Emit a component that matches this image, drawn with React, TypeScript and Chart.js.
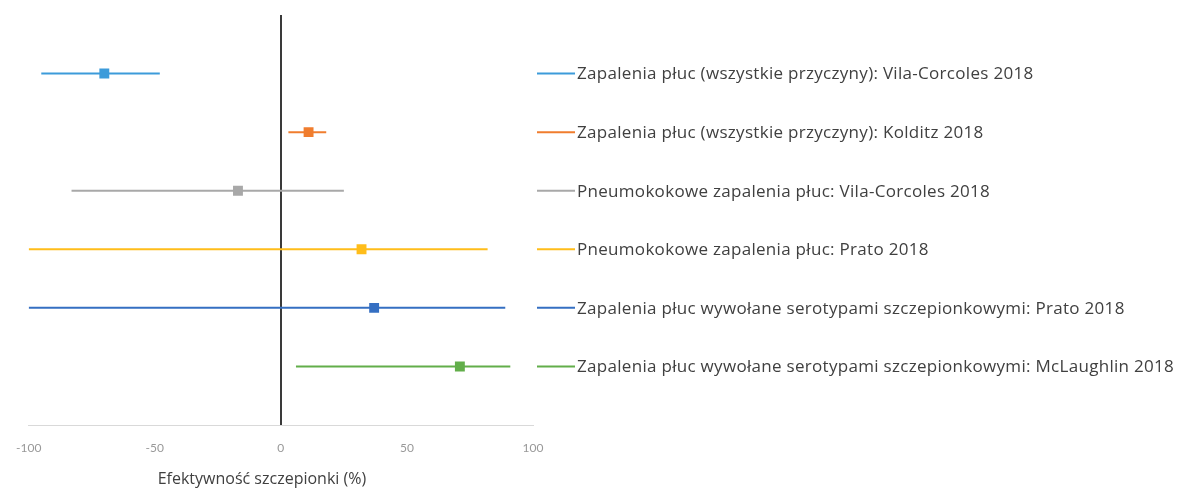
import React, { useEffect, useRef } from "react";
import { Chart, registerables } from "chart.js";

Chart.register(...registerables);

// Study labels, one per row (top to bottom)
const categories = [
  "Zapalenia płuc (wszystkie przyczyny): Vila-Corcoles 2018",
  "Zapalenia płuc (wszystkie przyczyny): Kolditz 2018",
  "Pneumokokowe zapalenia płuc: Vila-Corcoles 2018",
  "Pneumokokowe zapalenia płuc: Prato 2018",
  "Zapalenia płuc wywołane serotypami szczepionkowymi: Prato 2018",
  "Zapalenia płuc wywołane serotypami szczepionkowymi: McLaughlin 2018",
];

// Vaccine effectiveness (%) with 95% confidence interval bounds
const estimates = [-70, 11, -17, 32, 37, 71];
const lowerCI = [-95, 3, -83, -100, -100, 6];
const upperCI = [-48, 18, 25, 82, 89, 91];

const seriesColors = ["#3C9BDA", "#F07D2E", "#A8A8A8", "#FFBD1A", "#356FC2", "#62AE4A"];

const xTicks = [-100, -50, 0, 50, 100];
const axisTitle = "Efektywność szczepionki (%)";

const TEXT_FONT = "'Open Sans', 'Noto Sans', sans-serif";
const TICK_FONT = "Lato, 'Open Sans', sans-serif";

export default function App() {
  const canvasRef = useRef<HTMLCanvasElement | null>(null);

  useEffect(() => {
    const canvas = canvasRef.current;
    if (!canvas) return;

    const datasets = categories.map((label, i) => ({
      label,
      data: [
        { x: lowerCI[i], y: i + 1 },
        { x: estimates[i], y: i + 1 },
        { x: upperCI[i], y: i + 1 },
      ],
      borderColor: seriesColors[i],
      backgroundColor: seriesColors[i],
      borderWidth: 2,
      pointStyle: "rect" as const,
      pointRadius: [0, 7, 0],
      pointHoverRadius: [0, 7, 0],
      pointBorderWidth: 0,
      showLine: true,
    }));

    // Right-hand legend, each entry aligned with its row, plus the x-axis title
    const rowLegend = {
      id: "rowLegend",
      afterDraw(chart: any) {
        const { ctx, chartArea, scales } = chart;
        ctx.save();
        ctx.font = `17px ${TEXT_FONT}`;
        (ctx as any).letterSpacing = "0.3px";
        ctx.textBaseline = "middle";
        ctx.textAlign = "left";
        categories.forEach((label, i) => {
          const y = scales.y.getPixelForValue(i + 1);
          const x0 = chartArea.right + 4;
          ctx.strokeStyle = seriesColors[i];
          ctx.lineWidth = 2;
          ctx.beginPath();
          ctx.moveTo(x0, y);
          ctx.lineTo(x0 + 38, y);
          ctx.stroke();
          ctx.fillStyle = "#404040";
          ctx.fillText(label, x0 + 40, y + 1);
        });
        (ctx as any).letterSpacing = "0px";
        ctx.font = `16px ${TEXT_FONT}`;
        ctx.textAlign = "center";
        ctx.fillStyle = "#404040";
        ctx.fillText(axisTitle, scales.x.getPixelForValue(-7.5), chart.height - 10);
        ctx.restore();
      },
    };

    const chart = new Chart(canvas, {
      type: "line",
      data: { datasets },
      options: {
        animation: false,
        responsive: false,
        maintainAspectRatio: false,
        layout: { padding: { left: 27, right: 669, top: 15, bottom: 0 } },
        plugins: {
          legend: { display: false },
          tooltip: { enabled: false },
        },
        scales: {
          x: {
            type: "linear",
            min: -100,
            max: 100,
            afterBuildTicks(scale: any) {
              scale.ticks = xTicks.map((v) => ({ value: v }));
            },
            afterFit(scale: any) {
              scale.height = 64;
            },
            border: { display: true, color: "#D9D9D9", width: 1 },
            grid: {
              drawTicks: false,
              color: (c: any) => (c.tick && c.tick.value === 0 ? "#3A3A3A" : "transparent"),
              lineWidth: 2,
            },
            ticks: {
              padding: 16,
              color: "#999999",
              font: { size: 12, family: TICK_FONT },
            },
          },
          y: {
            type: "linear",
            min: 0,
            max: 7,
            reverse: true,
            display: false,
          },
        },
      },
      plugins: [rowLegend],
    });

    return () => chart.destroy();
  }, []);

  return (
    <div style={{ position: "fixed", left: 0, top: 0, width: 1202, height: 489, background: "#fff" }}>
      <canvas ref={canvasRef} width={1202} height={489} style={{ display: "block" }} />
    </div>
  );
}
